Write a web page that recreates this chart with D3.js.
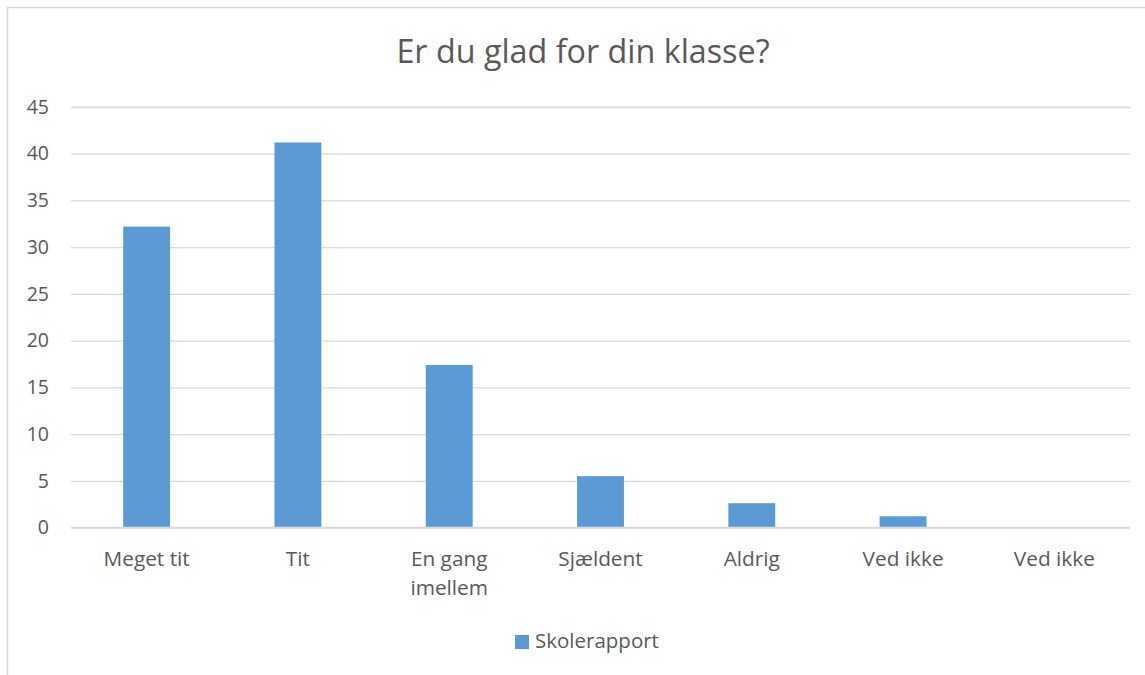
<!DOCTYPE html>
<html>
<head>
<meta charset="utf-8">
<script src="https://cdn.jsdelivr.net/npm/d3@7"></script>
<style>
  html, body { margin: 0; padding: 0; background: #fff; }
  svg { display: block; }
</style>
</head>
<body>
<svg id="chart" width="1145" height="675"></svg>
<script>
const title = "Er du glad for din klasse?";
const categories = ["Meget tit", "Tit", "En gang imellem", "Sjældent", "Aldrig", "Ved ikke", "Ved ikke "];
const categoryLines = [["Meget tit"], ["Tit"], ["En gang", "imellem"], ["Sjældent"], ["Aldrig"], ["Ved ikke"], ["Ved ikke"]];
const values = [32.2, 41.2, 17.4, 5.5, 2.6, 1.2, 0];
const seriesName = "Skolerapport";
const yTicks = [0, 5, 10, 15, 20, 25, 30, 35, 40, 45];

const FONT = "'Open Sans', Lato, sans-serif";
const TEXT = "#595959";
const GRID = "#D9D9D9";
const BAR = "#5B9BD5";

const svg = d3.select("#chart");

// chart area border
svg.append("rect")
  .attr("x", 7.5).attr("y", 7.5)
  .attr("width", 1160).attr("height", 700)
  .attr("fill", "#fff").attr("stroke", GRID).attr("stroke-width", 1.5);

const x = d3.scaleBand().domain(categories).range([71, 1130])
  .paddingInner(0.69).paddingOuter(0.345);
const y = d3.scaleLinear().domain([0, 45]).range([527.5, 107]);

// gridlines + y labels
const yAxis = d3.axisLeft(y).tickValues(yTicks).tickSize(-(1130 - 71)).tickPadding(22);
const gy = svg.append("g").attr("transform", "translate(71,0)").call(yAxis);
gy.select(".domain").remove();
gy.selectAll(".tick line").attr("stroke", GRID).attr("stroke-width", 1.3);
gy.selectAll(".tick text")
  .attr("fill", TEXT).attr("font-family", FONT).attr("font-size", 19.5);

// bars
svg.append("g").selectAll("rect").data(values).join("rect")
  .attr("x", (d, i) => x(categories[i]))
  .attr("y", d => y(d))
  .attr("width", x.bandwidth())
  .attr("height", d => y(0) - y(d))
  .attr("fill", BAR);

// baseline over bars
svg.append("line")
  .attr("x1", 71).attr("x2", 1130)
  .attr("y1", y(0)).attr("y2", y(0))
  .attr("stroke", GRID).attr("stroke-width", 1.3);

// x labels
const gx = svg.append("g");
categories.forEach((c, i) => {
  const t = gx.append("text")
    .attr("x", x(c) + x.bandwidth() / 2)
    .attr("y", 566)
    .attr("text-anchor", "middle")
    .attr("fill", TEXT).attr("font-family", FONT).attr("font-size", 20.8);
  categoryLines[i].forEach((ln, j) => {
    t.append("tspan").attr("x", x(c) + x.bandwidth() / 2).attr("dy", j === 0 ? 0 : 29).text(ln);
  });
});

// title
svg.append("text")
  .attr("x", 583).attr("y", 63)
  .attr("text-anchor", "middle")
  .attr("fill", TEXT).attr("font-family", FONT).attr("font-size", 32.3)
  .text(title);

// legend
svg.append("rect").attr("x", 515).attr("y", 635).attr("width", 14).attr("height", 14).attr("fill", BAR);
svg.append("text").attr("x", 535).attr("y", 648)
  .attr("fill", TEXT).attr("font-family", FONT).attr("font-size", 20.5)
  .text(seriesName);
</script>
</body>
</html>
